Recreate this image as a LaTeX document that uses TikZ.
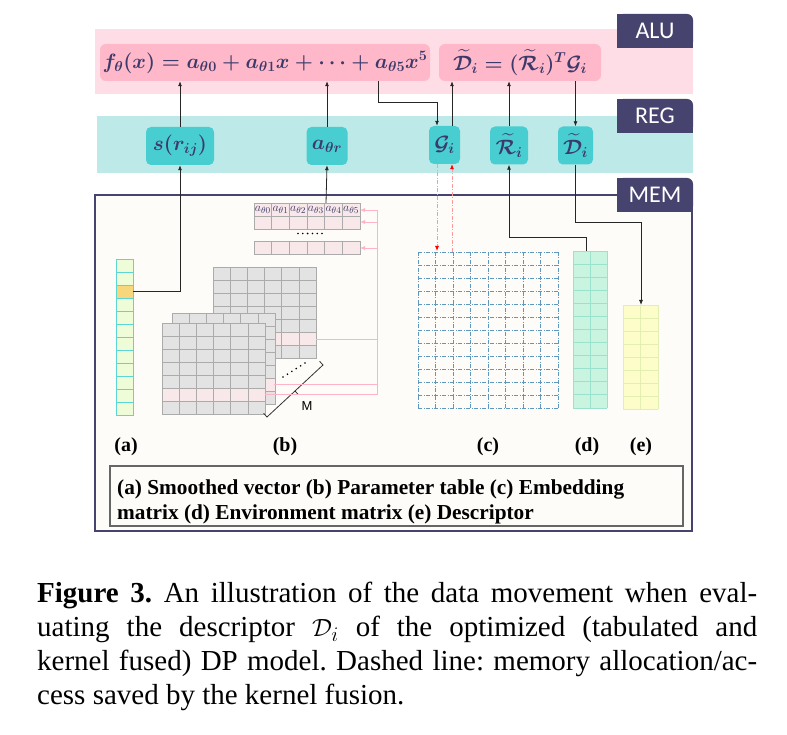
\documentclass[tikz,border=0pt]{standalone}
\usepackage{fontspec}
\usepackage{amsmath}
\setmainfont{Liberation Serif}
\newfontfamily\lblfont{Carlito}
\newfontfamily\msans{Liberation Sans}
\usetikzlibrary{arrows.meta,calc}
\definecolor{navy}{HTML}{46436F}
\definecolor{mtext}{HTML}{3C3A6A}
\definecolor{pinkband}{HTML}{FFDDE6}
\definecolor{pinkbox}{HTML}{FFB8C9}
\definecolor{tealband}{HTML}{BDEAE8}
\definecolor{tealbox}{HTML}{48CED1}
\definecolor{cream}{HTML}{FDFCF8}
\definecolor{cellgray}{HTML}{E3E3E3}
\definecolor{cellline}{HTML}{ABABAB}
\definecolor{cellpink}{HTML}{F8E8EA}
\definecolor{pinkline}{HTML}{FFB3C6}
\definecolor{redline}{HTML}{FF9A9A}
\definecolor{embline}{HTML}{5F98BC}
\definecolor{envfill}{HTML}{C8F4E0}
\definecolor{envline}{HTML}{9BE2CE}
\definecolor{descfill}{HTML}{FDFDC9}
\definecolor{descline}{HTML}{E3EEB2}
\definecolor{vecfill}{HTML}{EEFCD8}
\definecolor{vecline}{HTML}{5CD6CF}
\definecolor{vecorange}{HTML}{F8D77C}
\newcommand{\stackmat}[2]{%
  \foreach \j in {0,...,6}{%
    \ifnum\j=5 \def\cf{cellpink}\else\def\cf{cellgray}\fi
    \foreach \i in {0,...,5}{%
      \draw[cellline, fill=\cf, line width=0.8pt] ({#1+\i*17.2},{#2+\j*13.1}) rectangle ++(17.2,13.1);
    }}}
\begin{document}
\frenchspacing
\begin{tikzpicture}[x=1pt,y=-1pt,
  conn/.style={draw=black!85, line width=0.8pt},
  arr/.style={-{Latex[length=5pt,width=4pt]}},
  reddash/.style={draw=redline, line width=0.8pt, dash pattern=on 4pt off 1.5pt on 1pt off 1.5pt, -{Latex[length=5pt,width=4pt,color=red]}},
  pinkarr/.style={draw=pinkline, line width=0.8pt, -{Latex[length=5pt,width=4pt,color=pinkline]}},
  pinkconn/.style={draw=pinkline, line width=0.8pt},
  fbox/.style={fill=pinkbox, rounded corners=6pt, text=mtext, inner sep=0pt, font=\fontsize{22}{26}\selectfont\boldmath},
  regbox/.style={fill=tealbox, rounded corners=5pt, text=mtext, inner sep=0pt, minimum height=38pt, font=\fontsize{21}{24}\selectfont\boldmath},
  lbltext/.style={text=white, font=\lblfont\fontsize{24}{26}\selectfont, inner sep=0pt},
  sublbl/.style={font=\fontsize{20}{22}\selectfont\bfseries, inner sep=0pt, anchor=base},
  legtext/.style={font=\fontsize{21.3}{24}\selectfont\bfseries, inner sep=0pt, anchor=base west},
  captext/.style={font=\fontsize{29}{34}\selectfont, inner sep=0pt, anchor=base west}
]
\useasboundingbox (0,0) rectangle (787,735);
\fill[white] (0,0) rectangle (787,735);

% bands
\fill[pinkband] (95,29) rectangle (693,94);
\fill[tealband] (97,116) rectangle (693,173);
% memory frame
\draw[navy, line width=1.1pt, fill=cream] (95,195) rectangle (692,531);

% level label boxes (only top-right corner rounded)
\foreach \yt/\yb in {14/48, 99/133, 178/212}{
  \fill[navy, rounded corners=6pt] (617,\yt) rectangle (693,\yb);
  \fill[navy] (617,\yt) rectangle (670,\yb);
  \fill[navy] (617,{\yt+10}) rectangle (693,\yb);
}
\node[lbltext] (alu) at (655,31) {ALU};
\node[lbltext] (reg) at (655,116) {REG};
\node[lbltext] (mem) at (655,195) {MEM};

% ALU formulas
\node[fbox, minimum width=330pt, minimum height=37pt] (f1) at (265,62.5)
  {$f_{\theta}(x) = a_{\theta 0} + a_{\theta 1}x + \cdots + a_{\theta 5}x^5$};
\node[fbox, minimum width=162pt, minimum height=37pt] (f2) at (520,62.5)
  {$\widetilde{\mathcal{D}}_i = (\widetilde{\mathcal{R}}_i)^T \mathcal{G}_i$};

% registers
\node[regbox, minimum width=68pt] (s) at (180,146) {$s(r_{ij})$};
\node[regbox, minimum width=41pt] (a) at (327,146) {$a_{\theta r}$};
\node[regbox, minimum width=31pt] (G) at (444.5,145) {$\mathcal{G}_i$};
\node[regbox, minimum width=38pt] (R) at (509,145.5) {$\widetilde{\mathcal{R}}_i$};
\node[regbox, minimum width=35pt] (D) at (575.5,145.5) {$\widetilde{\mathcal{D}}_i$};

% ---- memory contents ----
% (a) smoothed vector
\foreach \k in {0,...,11}{
  \ifnum\k=2 \def\vf{vecorange}\else\def\vf{vecfill}\fi
  \draw[vecline, fill=\vf, line width=0.9pt] (116,{259+\k*13}) rectangle ++(17,13);
}
\coordinate (vecout) at (133,291.5);

% (b) parameter table
\foreach \i in {0,...,5}{
  \draw[cellline, fill=cellpink, line width=0.9pt] ({254+\i*17.67},203) rectangle ++(17.67,13);
  \draw[cellline, fill=cellpink, line width=0.9pt] ({254+\i*17.67},216) rectangle ++(17.67,13);
  \draw[cellline, fill=cellpink, line width=0.9pt] ({254+\i*17.67},241) rectangle ++(17.67,13);
}
\foreach \k in {0,...,5}{
  \node[font=\fontsize{13}{13}\selectfont, text=mtext, inner sep=0pt] (pl\k) at ({254+8.83+\k*17.67},209.5) {$a_{\theta\k}$};
  \fill ({298+\k*4.8},233.5) circle (0.9);
}
\coordinate (ptab) at (326,203);
\coordinate (pt1) at (360,210);
\coordinate (pt2) at (360,222);
\coordinate (pt3) at (360,248);

% stacked matrices
\stackmat{213}{267}
\stackmat{172}{313}
\stackmat{162}{323}
\foreach \k in {0,...,5}{
  \fill ({283+\k*4.4},{377-\k*2.8}) circle (0.9);
}
\draw[black!80, line width=0.8pt] (263.6,413.3) -- (267,417) -- (323,365) -- (319.6,361.3);
\draw[black!80, line width=0.8pt] (295,391) -- (298.4,394.7);
\node[font=\msans\fontsize{13}{13}\selectfont, inner sep=0pt] (Mlbl) at (307,406) {M};

% pink access lines
\coordinate (pv1) at (377,210);
\coordinate (pv2) at (377,394.5);
\draw[pinkconn] (pv1) -- (pv2);
\draw[pinkarr] (pv1) -- (pt1);
\draw[pinkarr] (377,222) -- (pt2);
\draw[pinkarr] (377,248) -- (pt3);
\draw[pinkconn] (316,339.5) -- (377,339.5);
\draw[pinkconn] (274,384.5) -- (377,384.5);
\draw[pinkconn] (265,394.5) -- (pv2);

% (c) embedding matrix
\foreach \k in {0,...,12}{
  \draw[embline, line width=0.9pt, dash pattern=on 4pt off 1.5pt on 1pt off 1.5pt] (418,{252+\k*13}) -- (558,{252+\k*13});
}
\foreach \k in {0,...,8}{
  \draw[embline, line width=0.9pt, dash pattern=on 4pt off 1.5pt on 1pt off 1.5pt] ({418+\k*17.5},252) -- ({418+\k*17.5},408);
}
\coordinate (cin) at (437,252);
\coordinate (cout) at (452,252);

% (d) environment matrix
\fill[envfill] (573,251) rectangle (607,408);
\foreach \k in {0,...,12}{ \draw[envline, line width=0.9pt] (573,{251+\k*13.08}) -- (607,{251+\k*13.08}); }
\foreach \k in {0,1,2}{ \draw[envline, line width=0.9pt] ({573+\k*17},251) -- ({573+\k*17},408); }
\coordinate (dtop) at (586,251);

% (e) descriptor
\fill[descfill] (623,305) rectangle (658,409);
\foreach \k in {0,...,8}{ \draw[descline, line width=0.9pt] (623,{305+\k*13}) -- (658,{305+\k*13}); }
\foreach \k in {0,1,2}{ \draw[descline, line width=0.9pt] ({623+\k*17.5},305) -- ({623+\k*17.5},409); }
\coordinate (etop) at (641,305);

% ---- connectors ----
\draw[conn, arr] (s.north) -- (s.north |- f1.south);
\draw[conn, arr] (a.north) -- (a.north |- f1.south);
\coordinate (f1out) at ($(f1.south east)+(-52,0)$);
\coordinate (gin) at ($(G.north)+(-7.5,0)$);
\coordinate (gup) at ($(G.north)+(7.5,0)$);
\coordinate (gdn) at ($(G.south)+(-7.5,0)$);
\draw[conn, arr] (f1out) -- ++(0,21) -| (gin);
\draw[conn, arr] (gup) -- (gup |- f2.south);
\draw[conn, arr] (R.north) -- (R.north |- f2.south);
\draw[conn, arr] (D.north |- f2.south) -- (D.north);

\draw[conn, arr] (vecout) -| (s.south);
\draw[conn, arr] (ptab) -- (a.south);
\draw[reddash] (gdn) -- ($(cin)+(0,-1)$);
\draw[reddash] (cout) -- (cout |- G.south);
\draw[conn, arr] (dtop) -- ++(0,-14) -| (R.south);
\draw[conn, arr] (D.south) -- ($(D.south)+(0,58)$) -| (etop);

% sub labels
\node[sublbl] (la) at (126,451) {(a)};
\node[sublbl] (lb) at (285,451) {(b)};
\node[sublbl] (lc) at (488,451) {(c)};
\node[sublbl] (ld) at (587,451) {(d)};
\node[sublbl] (le) at (641,451) {(e)};

% legend
\draw[black!60, line width=1.1pt, fill=cream] (110,466) rectangle (683,526);
\node[legtext] (leg1) at (117,494) {(a) Smoothed vector (b) Parameter table (c) Embedding};
\node[legtext] (leg2) at (117,519) {matrix (d) Environment matrix (e) Descriptor};

% caption
\node[captext] (cap1) at (37,602) {\makebox[720pt][s]{\textbf{Figure 3.} An illustration of the data movement when eval-}};
\node[captext] (cap2) at (37,636) {\makebox[720pt][s]{uating the descriptor $\mathcal{D}_i$ of the optimized (tabulated and}};
\node[captext] (cap3) at (37,670) {\makebox[720pt][s]{kernel fused) DP model. Dashed line: memory allocation/ac-}};
\node[captext] (cap4) at (37,704) {cess saved by the kernel fusion.};
\end{tikzpicture}
\end{document}
